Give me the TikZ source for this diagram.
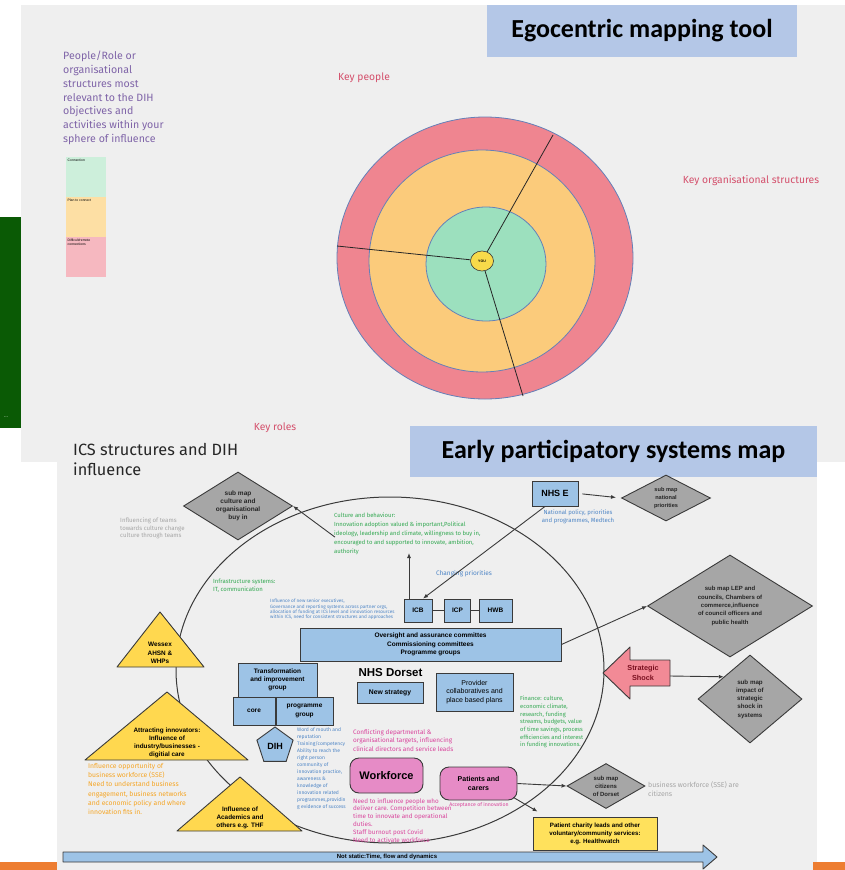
\documentclass[tikz,border=0pt]{standalone}
\usepackage{fontspec}
\setmainfont{Liberation Sans}
\newfontfamily\hand{Fira Sans}
\newfontfamily\ttlfont{Carlito}
\usetikzlibrary{shapes.geometric,arrows.meta}
\newcommand{\fsz}[2]{\fontsize{#1}{#2}\selectfont}
\definecolor{panel}{HTML}{EFEFEF}
\definecolor{dkgreen}{HTML}{0A5A05}
\definecolor{orangebar}{HTML}{ED7D31}
\definecolor{titleblue}{HTML}{B4C7E7}
\definecolor{ringpink}{HTML}{EF8590}
\definecolor{ringorange}{HTML}{FBCB7B}
\definecolor{ringgreen}{HTML}{9CE0BE}
\definecolor{ringline}{HTML}{6580B8}
\definecolor{youyellow}{HTML}{F7DA4A}
\definecolor{legpurple}{HTML}{7F64A8}
\definecolor{keyred}{HTML}{D4506C}
\definecolor{leggreen}{HTML}{CDEFDB}
\definecolor{legorange}{HTML}{FDDFA4}
\definecolor{legpink}{HTML}{F6B8C0}
\definecolor{boxblue}{HTML}{9DC3E6}
\definecolor{dline}{HTML}{3A3A3A}
\definecolor{dgray}{HTML}{A6A6A6}
\definecolor{triyellow}{HTML}{FFD84F}
\definecolor{charyellow}{HTML}{FFE15C}
\definecolor{wfpink}{HTML}{E68BC6}
\definecolor{shockpink}{HTML}{F28A96}
\definecolor{shockred}{HTML}{7A1020}
\definecolor{txgreen}{HTML}{33A852}
\definecolor{txblue}{HTML}{4F86C6}
\definecolor{txorange}{HTML}{F5A524}
\definecolor{txgray}{HTML}{A5A5A5}
\definecolor{txpink}{HTML}{D9449C}
\tikzset{
  titlebox/.style={fill=titleblue, inner sep=0pt, font=\ttlfont\bfseries\fsz{26}{28}},
  ring/.style={draw=ringline, line width=0.8pt},
  bluebox/.style={draw=dline, fill=boxblue, line width=0.9pt, inner sep=0pt, align=center, font=\bfseries\fsz{6.5}{8.3}},
  subdiamond/.style={diamond, draw=dline, fill=dgray, line width=0.9pt, inner sep=0pt},
  dtext/.style={align=center, font=\bfseries\fsz{6.2}{8.3}, text=black!85, inner sep=0pt},
  arr/.style={draw=dline, line width=0.9pt, -{Latex[length=5pt,width=4pt]}},
  conn/.style={draw=dline, line width=0.9pt},
  hw/.style={inner sep=0pt, align=left, anchor=north west},
  tri/.style={draw=dline, fill=triyellow, line width=0.9pt, line join=round},
  tritext/.style={align=center, font=\bfseries\fsz{6.4}{8.2}, inner sep=0pt},
  legbox/.style={minimum width=40, minimum height=40, inner sep=0pt, anchor=north west},
  leglabel/.style={anchor=north west, inner sep=1.5pt, align=left, font=\fsz{3.4}{4}},
  keytext/.style={text=keyred, font=\hand\fsz{10.3}{11}, inner sep=0pt}
}
\begin{document}
\begin{tikzpicture}[x=1pt,y=-1pt]
\useasboundingbox (0,0) rectangle (845,870);
\fill[white] (0,0) rectangle (845,870);
\fill[panel] (21,5) rectangle (845,462);
\fill[panel] (57,462) rectangle (817,870);
\fill[dkgreen] (0,217) rectangle (21,428);
\node[text=white, font=\fsz{5}{5}, inner sep=0pt] (dots) at (6,417) {...};
\fill[orangebar] (0,862) rectangle (57,870);
\fill[orangebar] (813,862) rectangle (845,870);

% ---------- Egocentric mapping tool ----------
\node[titlebox, minimum width=310, minimum height=52] (t1) at (642,31) {Egocentric mapping tool};
\node[hw, text=legpurple, font=\hand\fsz{10.6}{13.8}] (legtxt) at (63,51) {People/Role or\\organisational\\structures most\\relevant to the DIH\\objectives and\\activities within your\\sphere of influence};
\node[legbox, fill=leggreen, label={[leglabel]north west:Connection}] (lg1) at (66,157) {};
\node[legbox, fill=legorange, label={[leglabel]north west:Plan to connect}] (lg2) at (66,197) {};
\node[legbox, fill=legpink, label={[leglabel]north west:Difficult/remote\\connections}] (lg3) at (66,237) {};

\node[keytext] (kp) at (364,78) {Key people};
\node[keytext] (ko) at (751,181) {Key organisational structures};
\node[keytext] (kr) at (275,428) {Key roles};

\draw[ring, fill=ringpink] (485,258) ellipse [x radius=148, y radius=141];
\draw[ring, fill=ringorange] (482,261) ellipse [x radius=113, y radius=111];
\draw[ring, fill=ringgreen] (486,264) ellipse [x radius=60, y radius=57];
\coordinate (e1) at (553,135);
\coordinate (e2) at (337,246);
\coordinate (e3) at (523,396);
\node[draw=dline, ellipse, fill=youyellow, minimum width=23, minimum height=20, inner sep=0pt, font=\bfseries\fsz{3.5}{4}, line width=0.6pt] (you) at (482,261) {YOU};
\draw[line width=0.8pt, black!85] (you) -- (e1);
\draw[line width=0.8pt, black!85] (you) -- (e2);
\draw[line width=0.8pt, black!85] (you) -- (e3);

% ---------- Early participatory systems map ----------
\node[titlebox, minimum width=407, minimum height=51] (t2) at (613.5,451) {Early participatory systems map};
\node[hw, text=black!85, font=\hand\fsz{16.3}{20}] (ics) at (73,443) {ICS structures and DIH\\influence};

\draw[draw=dline, line width=1pt] (390,670) ellipse [x radius=214, y radius=173];

% diamonds
\node[subdiamond, minimum width=109, minimum height=68, label={[dtext,font=\bfseries\fsz{6.5}{7.8}]center:{sub map\\culture and\\organisational\\buy in}}] (subcult) at (238,506) {};
\node[subdiamond, minimum width=89, minimum height=46, label={[dtext,font=\bfseries\fsz{5.6}{8.4}]center:{sub map\\national\\priorities}}] (natl) at (666,498) {};
\node[subdiamond, minimum width=165, minimum height=102, label={[dtext,font=\bfseries\fsz{6}{8.3}]center:{sub map LEP and\\councils, Chambers of\\commerce,influence\\of council officers and\\public health}}] (lep) at (730,606) {};
\node[subdiamond, minimum width=104, minimum height=88, label={[dtext]center:{sub map\\impact of\\strategic\\shock in\\systems}}] (impact) at (750,699) {};
\node[subdiamond, minimum width=78, minimum height=45, label={[dtext,font=\bfseries\fsz{6}{8}]center:{sub map\\citizens\\of Dorset}}] (citizens) at (606,786) {};

% texts
\node[hw, text=txgray, font=\hand\fsz{6.1}{7.2}] (inflteams) at (120,518) {Influencing of teams\\towards culture change\\culture through teams};
\node[hw, text=txgreen, font=\hand\fsz{5.9}{9}] (culture) at (334,513) {Culture and behaviour:\\Innovation adoption valued \& important,Political\\ideology, leadership and climate, willingness to buy in,\\encouraged to and supported to innovate, ambition,\\authority};
\node[hw, text=txgreen, font=\hand\fsz{6}{8}] (infra) at (213,579) {Infrastructure systems:\\IT, communication};
\node[hw, text=txblue, font=\hand\fsz{4.7}{5.3}] (gov) at (270,599) {Influence of new senior executives,\\Governance and reporting systems across partner orgs,\\allocation of funding at ICS level and innovation resources\\within ICS, need for consistent structures and approaches};
\node[text=txblue, font=\hand\fsz{6.5}{7}, inner sep=0pt] (chg) at (464,574) {Changing priorities};
\node[text=txblue, font=\hand\fsz{6}{8}, inner sep=0pt, align=center] (natpol) at (578,517) {National policy, priorities\\and programmes, Medtech};
\node[hw, text=txorange, font=\hand\fsz{6.8}{9.2}] (orangetx) at (88,763) {Influence opportunity of\\business workforce (SSE)\\Need to understand business\\engagement, business networks\\and economic policy and where\\innovation fits in.};
\node[hw, text=txblue, font=\hand\fsz{5}{7}] (dihtx) at (297,728) {Word of mouth and\\reputation\\Training/competency\\Ability to reach the\\right person\\community of\\innovation practice,\\awareness \&\\knowledge of\\innovation related\\programmes,providin\\g evidence of success};
\node[hw, text=txgreen, font=\hand\fsz{5.8}{7.7}] (fin) at (520,696) {Finance: culture,\\economic climate,\\research, funding\\streams, budgets, value\\of time savings, process\\efficiencies and interest\\in funding innovations.};
\node[hw, text=txpink, font=\hand\fsz{6.4}{8.5}] (confl) at (353,729) {Conflicting departmental \&\\organisational targets, influencing\\clinical directors and service leads};
\node[hw, text=txpink, font=\hand\fsz{6.3}{7.8}] (needtx) at (353,798) {Need to influence people who\\deliver care. Competition between\\time to innovate and operational\\duties.\\Staff burnout post Covid\\Need to activate workforce};
\node[text=txpink, font=\hand\fsz{5.2}{6}, inner sep=0pt] (accept) at (479,805) {Acceptance of innovation};
\node[hw, text=txgray, font=\hand\fsz{7}{9}] (bizcit) at (648,781) {business workforce (SSE) are\\citizens};

% blue boxes
\node[bluebox, minimum width=46, minimum height=25, font=\bfseries\fsz{9}{10}] (nhse) at (555,493.5) {NHS E};
\node[bluebox, minimum width=28, minimum height=23] (icb) at (418,610.5) {ICB};
\node[bluebox, minimum width=26, minimum height=23] (icp) at (457.5,610.5) {ICP};
\node[bluebox, minimum width=33, minimum height=23] (hwb) at (495.5,610.5) {HWB};
\node[bluebox, minimum width=261, minimum height=33] (over) at (430.5,644.5) {Oversight and assurance committes\\Commissioning committees\\Programme groups};
\node[bluebox, minimum width=79, minimum height=34] (trans) at (277.5,680) {Transformation\\and improvement\\group};
\node[bluebox, minimum width=42, minimum height=28] (core) at (254,711) {core};
\node[bluebox, minimum width=57, minimum height=28] (prog) at (304.5,711) {programme\\group};
\node[bluebox, regular polygon, regular polygon sides=5, minimum size=38, font=\bfseries\fsz{9}{10}] (dih) at (275,746) {DIH};
\node[font=\bfseries\fsz{11.5}{12}, inner sep=0pt] (dorset) at (390.5,673) {NHS Dorset};
\node[bluebox, minimum width=66, minimum height=21, font=\bfseries\fsz{6.8}{8}] (newstrat) at (390,692.5) {New strategy};
\node[bluebox, minimum width=77, minimum height=38, font=\fsz{7}{8.5}] (prov) at (474.5,692) {Provider\\collaboratives and\\place based plans};
\node[draw=dline, fill=wfpink, line width=0.9pt, rounded corners=9pt, minimum width=73, minimum height=35, inner sep=0pt, font=\bfseries\fsz{11}{12}] (work) at (386.5,775.5) {Workforce};
\node[draw=dline, fill=wfpink, line width=0.9pt, rounded corners=9pt, minimum width=77, minimum height=33, inner sep=0pt, align=center, font=\bfseries\fsz{7}{9.3}] (patients) at (478.5,783.5) {Patients and\\carers};
\node[draw=dline, fill=charyellow, line width=0.9pt, minimum width=124, minimum height=33, inner sep=0pt, align=center, font=\bfseries\fsz{6.2}{8}] (charity) at (595,833.5) {Patient charity leads and other\\voluntary/community services:\\e.g. Healthwatch};

% triangles
\draw[tri] (160,612) -- (204,667) -- (117,667) -- cycle;
\node[tritext] (wessex) at (160,653) {Wessex\\AHSN \&\\WHPs};
\draw[tri] (167,692) -- (248,760) -- (85,760) -- cycle;
\node[tritext] (attract) at (167,743) {Attracting innovators:\\Influence of\\industry/businesses -\\digitial care};
\draw[tri] (240,777) -- (302,831) -- (177,831) -- cycle;
\node[tritext] (acad) at (240,818) {Influence of\\Academics and\\others e.g. THF};

% strategic shock
\draw[draw=dline, fill=shockpink, line width=0.9pt, line join=round] (603,673) -- (630,647) -- (630,660) -- (670,660) -- (670,686) -- (630,686) -- (630,699) -- cycle;
\node[text=shockred, align=center, font=\bfseries\fsz{7.3}{9.8}, inner sep=0pt] (shock) at (643,673) {Strategic\\Shock};
\coordinate (shockend) at (670,676);

% not static arrow
\draw[draw=dline, fill=boxblue, line width=0.9pt, line join=round] (63,852) -- (703,852) -- (703,845) -- (717,857) -- (703,869) -- (703,862) -- (63,862) -- cycle;
\node[font=\bfseries\fsz{6}{7}, inner sep=0pt] (notstatic) at (387,857) {Not static:Time, flow and dynamics};

% connectors
\coordinate (cultb) at (409,553);
\draw[arr] ([xshift=-9pt]icb.north) -- (cultb);
\draw[arr] ([xshift=1pt,yshift=-3pt]culture.west) -- (subcult.east);
\draw[arr] ([xshift=-10pt]nhse.south) -- ([xshift=5pt]icb.north);
\draw[arr, shorten <=4pt, shorten >=5pt] (nhse.east) -- (natl.west);
\draw[conn] (icb) -- (icp);
\draw[conn] (icp) -- (hwb);
\draw[arr] (over.east) -- (lep.west);
\draw[arr] (shockend) -- (impact.north west);
\draw[arr] (patients.east) -- (citizens.west);
\draw[arr] ([xshift=-4pt,yshift=3pt]patients.south east) -- ([xshift=5pt,yshift=5pt]charity.north west);
\end{tikzpicture}
\end{document}
